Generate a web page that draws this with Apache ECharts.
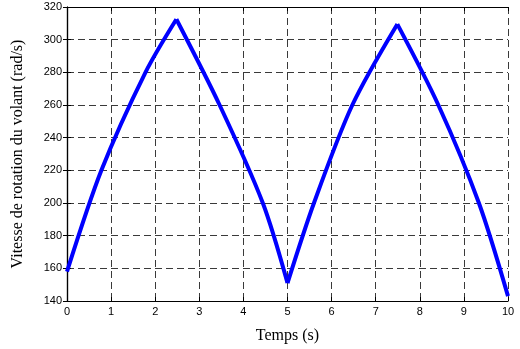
<!DOCTYPE html>
<html>
<head>
<meta charset="UTF-8">
<title>vitesse volant</title>
<script type="text/javascript" src="https://cdn.jsdelivr.net/npm/echarts@6/dist/echarts.min.js"></script>
<style>
body { margin: 0; background: #fff; }
</style>
</head>
<body>
<div id="main" style="width: 520px; height: 349px"></div>

<script type="text/javascript">
	// temps (s) et vitesse (rad/s)
	var temps = [0, 0.78, 1.78, 2.48,
		3.46, 4.44, 5.0,
		5.6, 6.47, 7.49,
		8.42, 9.34, 10];
	var vitesse = [158, 220, 280, 312.5,
		260, 200, 151,
		200, 260, 309.5,
		260, 200, 143];
	// indices des sommets et creux (debut / fin de chaque phase)
	var phases = [0, 3, 6, 9, 12];
	var xTicks = [0, 10, 1];
	var yTicks = [140, 320, 20];

	var serif = '"Liberation Serif", "Times New Roman", serif';
	var sans = '"Liberation Sans", Arial, sans-serif';
	var grille = { show: true, lineStyle: { color: '#3a3a3a', type: [7, 4], width: 1 } };

	// une serie par phase (charge / decharge), pour garder les pointes
	var series = [];
	for (var p = 0; p < phases.length - 1; p++) {
		var pts = [];
		for (var i = phases[p]; i <= phases[p + 1]; i++) {
			pts.push([temps[i], vitesse[i]]);
		}
		series.push({
			type: 'line',
			data: pts,
			showSymbol: false,
			smooth: 0.3,
			lineStyle: { color: '#0000ff', width: 4, join: 'miter', cap: 'butt' }
		});
	}

	var mychart = echarts.init(document.getElementById('main'));
	var option = {
		animation: false,
		grid: { left: 67, right: 12, top: 7, bottom: 42 },
		xAxis: [{
			type: 'value',
			min: xTicks[0], max: xTicks[1], interval: xTicks[2],
			axisLine: { lineStyle: { color: '#000', width: 1.2 } },
			axisTick: { inside: true, length: 4, lineStyle: { color: '#000' } },
			axisLabel: { color: '#000', fontSize: 11, fontFamily: sans, margin: 5 },
			splitLine: grille,
			name: 'Temps (s)',
			nameLocation: 'middle',
			nameGap: 27,
			nameTextStyle: { color: '#000', fontSize: 16, fontFamily: serif }
		}, {
			type: 'value', position: 'top',
			min: xTicks[0], max: xTicks[1], interval: xTicks[2],
			axisLine: { lineStyle: { color: '#000', width: 1.2 } },
			axisTick: { inside: true, length: 4, lineStyle: { color: '#000' } },
			axisLabel: { show: false },
			splitLine: { show: false }
		}],
		yAxis: [{
			type: 'value',
			min: yTicks[0], max: yTicks[1], interval: yTicks[2],
			axisLine: { show: true, lineStyle: { color: '#000', width: 1.2 } },
			axisTick: { show: true, inside: true, length: 4, lineStyle: { color: '#000' } },
			axisLabel: { color: '#000', fontSize: 11, fontFamily: sans, margin: 5 },
			splitLine: grille,
			name: 'Vitesse de rotation du volant (rad/s)',
			nameLocation: 'middle',
			nameGap: 41,
			nameTextStyle: { color: '#000', fontSize: 16, fontFamily: serif }
		}, {
			type: 'value', position: 'right',
			min: yTicks[0], max: yTicks[1], interval: yTicks[2],
			axisLine: { show: true, lineStyle: { color: '#000', width: 1.2 } },
			axisTick: { show: true, inside: true, length: 4, lineStyle: { color: '#000' } },
			axisLabel: { show: false },
			splitLine: { show: false }
		}],
		series: series
	};
	mychart.setOption(option);
</script>
</body>
</html>
